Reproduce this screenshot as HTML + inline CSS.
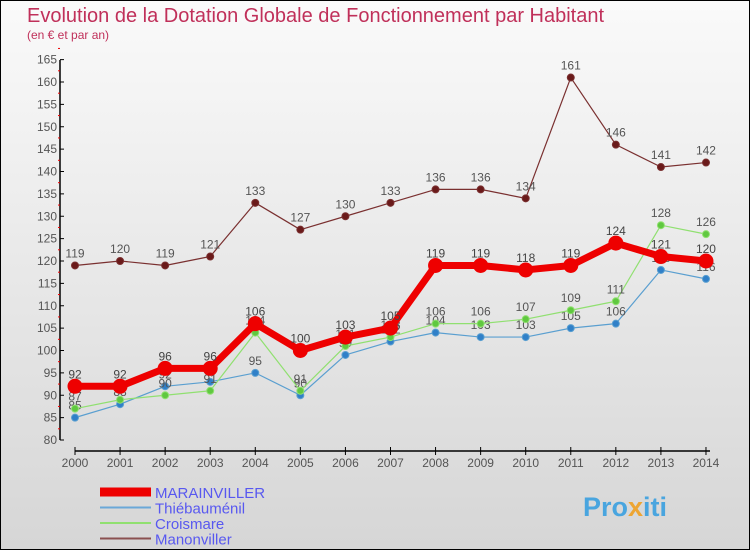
<!DOCTYPE html>
<html><head><meta charset="utf-8"><style>
body{margin:0;}
#c{width:750px;height:550px;position:relative;box-sizing:border-box;border:1px solid #000;background:linear-gradient(#fafafa,#d6d6d6);overflow:hidden;font-family:"Liberation Sans",sans-serif;}
</style></head><body>
<div id="c">
<svg id="s" width="750" height="550" style="position:absolute;left:-1px;top:-1px">
<text x="27" y="22" font-size="20" fill="#c0305a">Evolution de la Dotation Globale de Fonctionnement par Habitant</text>
<text x="27" y="39" font-size="12" fill="#c0305a">(en € et par an)</text>
<text x="583" y="516" font-size="27" font-weight="bold" fill="#3aa0e0" opacity="0.9">Pro<tspan fill="#f0a020">x</tspan>iti</text>
</svg>
</div>
<script>
const years=[2000,2001,2002,2003,2004,2005,2006,2007,2008,2009,2010,2011,2012,2013,2014];
const marainviller=[92,92,96,96,106,100,103,105,119,119,118,119,124,121,120];
const thiebaumenil=[85,88,92,93,95,90,99,102,104,103,103,105,106,118,116];
const croismare=[87,89,90,91,104,91,101,103,106,106,107,109,111,128,126];
const manonviller=[119,120,119,121,133,127,130,133,136,136,134,161,146,141,142];
const yTicks=[80,85,90,95,100,105,110,115,120,125,130,135,140,145,150,155,160,165];
const NS="http://www.w3.org/2000/svg";
const s=document.getElementById('s');
const X=i=>75+i*45.07;
const Y=v=>440-(v-80)*4.475;
function el(t,a,p){const e=document.createElementNS(NS,t);for(const k in a)e.setAttribute(k,a[k]);(p||s).appendChild(e);return e;}
const ya=el('line',{x1:60,y1:60,x2:60,y2:440,stroke:'#000','stroke-width':1.5});


const xa=el('line',{x1:75,y1:451,x2:710,y2:451,stroke:'#000','stroke-width':1.5});


yTicks.forEach(v=>{
 el('line',{x1:60,y1:Y(v),x2:64,y2:Y(v),stroke:'#000'});
 el('line',{x1:58,y1:Y(v+2.5),x2:60,y2:Y(v+2.5),stroke:'#e00'});
 const t=el('text',{x:57,y:Y(v)+4,'font-size':12,'text-anchor':'end',fill:'#555'});
 t.textContent=v;
 
 
});
years.forEach((yr,i)=>{
 el('line',{x1:X(i),y1:447,x2:X(i),y2:455,stroke:'#000'});
 const t=el('text',{x:X(i),y:467,'font-size':12,'text-anchor':'middle',fill:'#555'});
 t.textContent=yr;
 
 
});
function series(data,color,dot,w,r,name,lblColor){
 const g=el('g',{});
 
 
 const pl=el('polyline',{points:data.map((v,i)=>X(i)+','+Y(v)).join(' '),fill:'none',stroke:color,'stroke-width':w,'stroke-linejoin':'round'},g);
 
 
 data.forEach((v,i)=>{
  const c=el('circle',{cx:X(i),cy:Y(v),r:r,fill:dot,stroke:color,'stroke-width':1},g);
  
  
  const t=el('text',{x:X(i),y:Y(v)-8,'font-size':12,'text-anchor':'middle',fill:lblColor},g);
  t.textContent=v;
  
  
 });
}
series(thiebaumenil,'#5a9fd0','#3080c8',1.2,3.5,'thiebaumenil','#555');
series(croismare,'#90e070','#60c840',1.2,3.5,'croismare','#555');
series(manonviller,'#7a3030','#6a1a1a',1.2,3.5,'manonviller','#555');
series(marainviller,'#ee0000','#ee0000',7,7,'marainviller','#444');
const leg=[['MARAINVILLER','#ee0000',9],['Thiébauménil','#6aa8d8',2],['Croismare','#90e070',2],['Manonviller','#8a5050',2]];
leg.forEach((l,i)=>{
 const y=492+i*15.5;
 const ln=el('line',{x1:100,y1:y,x2:151,y2:y,stroke:l[1],'stroke-width':l[2]});
 
 
 const t=el('text',{x:155,y:y+6,'font-size':15,fill:'#5858f0'});
 t.textContent=l[0];
 
 
});
</script>
</body></html>
